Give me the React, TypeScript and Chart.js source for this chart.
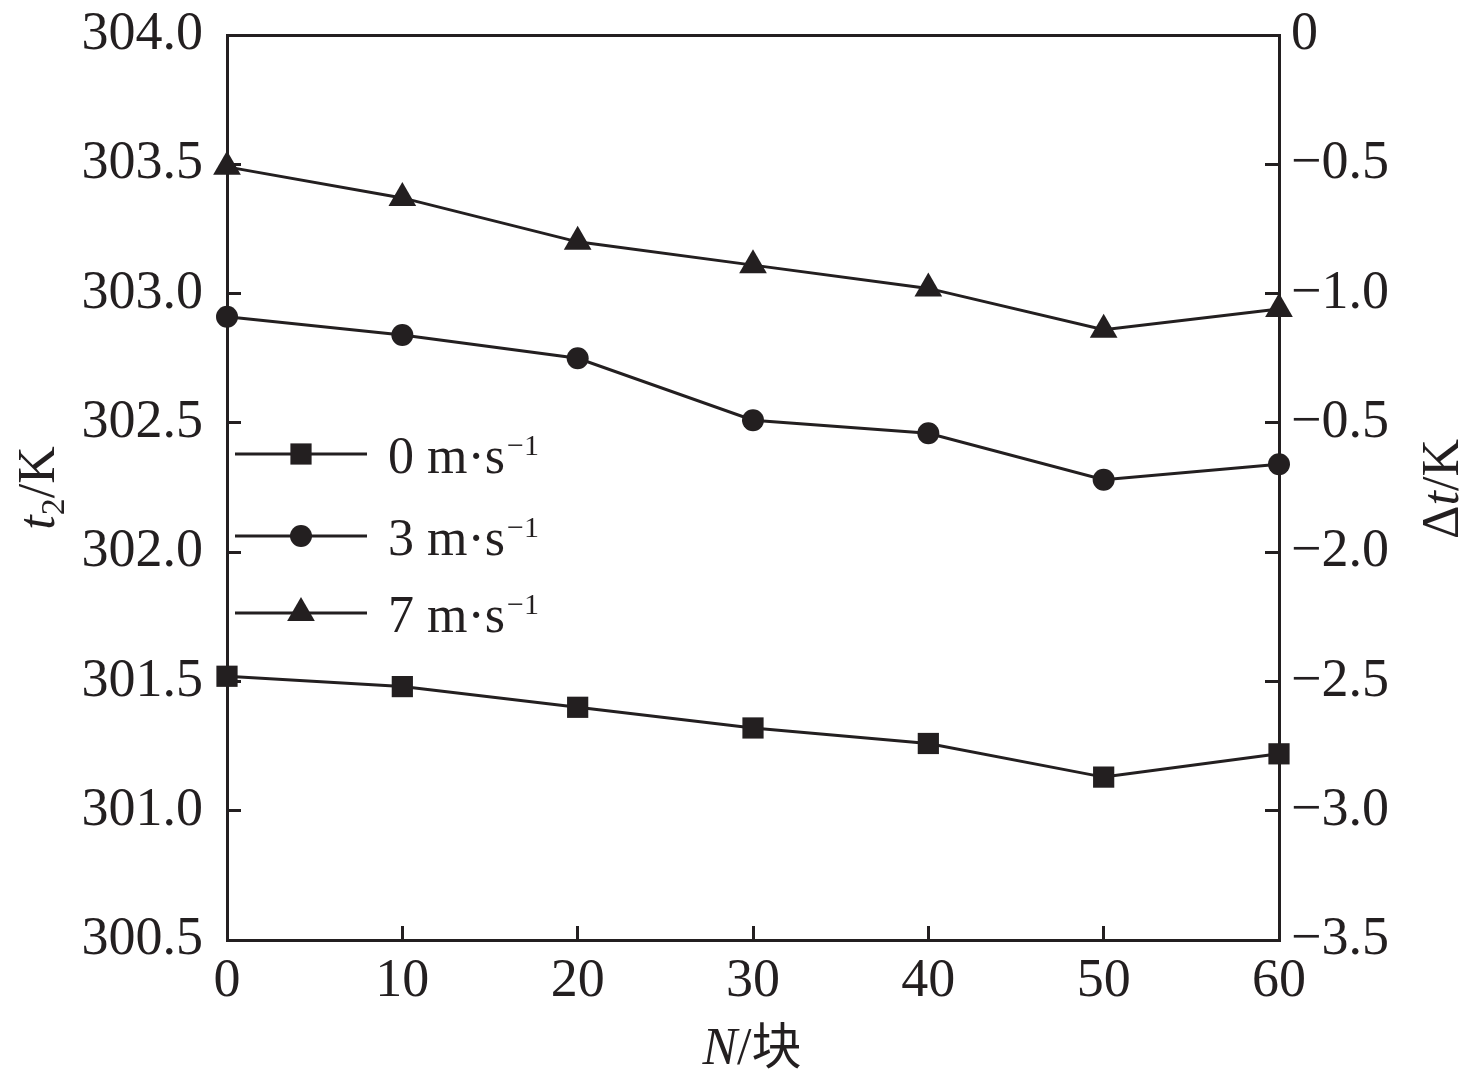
import { useEffect, useRef } from 'react';
import { Chart, registerables, type ChartConfiguration, type Plugin } from 'chart.js';

Chart.register(...registerables);

const blocks = [0, 10, 20, 30, 40, 50, 60];
const speed0 = [301.52, 301.48, 301.4, 301.32, 301.26, 301.13, 301.22];
const speed3 = [302.91, 302.84, 302.75, 302.51, 302.46, 302.28, 302.34];
const speed7 = [303.49, 303.37, 303.2, 303.11, 303.02, 302.86, 302.94];
const seriesNames = ['0 m·s', '3 m·s', '7 m·s'];
const seriesMarkers = ['rect', 'circle', 'triangle'] as const;
const deltaTickLabels = ['0', '−0.5', '−1.0', '−0.5', '−2.0', '−2.5', '−3.0', '−3.5'];

const INK = '#231F20';
const SERIF = '"Liberation Serif", "Times New Roman", serif';
const CJK = '"Noto Sans CJK SC", sans-serif';

type Seg = { text: string; italic?: boolean; size?: number; shift?: number; family?: string };

function segFont(s: Seg, base: number) {
  return `${s.italic ? 'italic ' : ''}${s.size ?? base}px ${s.family ?? SERIF}`;
}

function drawRich(ctx: CanvasRenderingContext2D, segs: Seg[], cx: number, cy: number, base: number, rotate: boolean) {
  ctx.save();
  ctx.translate(cx, cy);
  if (rotate) ctx.rotate(-Math.PI / 2);
  let total = 0;
  for (const s of segs) {
    ctx.font = segFont(s, base);
    total += ctx.measureText(s.text).width;
  }
  let x = -total / 2;
  ctx.textAlign = 'left';
  ctx.textBaseline = 'alphabetic';
  ctx.fillStyle = INK;
  for (const s of segs) {
    ctx.font = segFont(s, base);
    ctx.fillText(s.text, x, base * 0.34 + (s.shift ?? 0));
    x += ctx.measureText(s.text).width;
  }
  ctx.restore();
}

function drawMarker(ctx: CanvasRenderingContext2D, kind: string, x: number, y: number, r: number) {
  ctx.beginPath();
  if (kind === 'rect') {
    const h = r * Math.SQRT1_2;
    ctx.rect(x - h, y - h, 2 * h, 2 * h);
  } else if (kind === 'circle') {
    ctx.arc(x, y, r, 0, Math.PI * 2);
  } else {
    for (let i = 0; i < 3; i++) {
      const a = (i * 2 * Math.PI) / 3;
      const px = x + Math.sin(a) * r;
      const py = y - Math.cos(a) * r;
      if (i === 0) ctx.moveTo(px, py);
      else ctx.lineTo(px, py);
    }
    ctx.closePath();
  }
  ctx.fill();
}

const markerRadius: Record<string, number> = { rect: 15, circle: 11, triangle: 16 };

const decorations: Plugin<'line'> = {
  id: 'decorations',
  afterDraw(chart) {
    const ctx = chart.ctx;
    ctx.save();
    // legend: line - marker - line, then label with superscript
    const rows = [454, 536, 613];
    seriesNames.forEach((name, i) => {
      const y = rows[i];
      ctx.strokeStyle = INK;
      ctx.fillStyle = INK;
      ctx.lineWidth = 3;
      ctx.beginPath();
      ctx.moveTo(235, y);
      ctx.lineTo(367, y);
      ctx.stroke();
      drawMarker(ctx, seriesMarkers[i], 301, y, markerRadius[seriesMarkers[i]]);
      ctx.textAlign = 'left';
      ctx.textBaseline = 'alphabetic';
      ctx.font = `52px ${SERIF}`;
      ctx.fillText(name, 388, y + 19);
      const w = ctx.measureText(name).width;
      ctx.font = `30px ${SERIF}`;
      ctx.fillText('−1', 388 + w + 2, y + 1);
    });
    ctx.restore();

    drawRich(ctx, [{ text: 't', italic: true }, { text: '2', size: 34, shift: 10 }, { text: '/K' }], 36, 488, 52, true);
    drawRich(ctx, [{ text: 'Δ' }, { text: 't', italic: true }, { text: '/K' }], 1440, 489, 52, true);
    drawRich(ctx, [{ text: 'N', italic: true }, { text: '/' }, { text: '块', family: CJK, size: 50 }], 752, 1046, 52, false);
  },
};

const tickFont = { family: SERIF, size: 54 };

// keep the plot frame where the reference has it
function fixVertical(width: number) {
  return (s: any) => {
    s.width = width;
    s.paddingTop = 35;
    s.paddingBottom = 0;
  };
}

export default function App() {
  const canvasRef = useRef<HTMLCanvasElement | null>(null);

  useEffect(() => {
    if (!canvasRef.current) return;
    const series = [speed0, speed3, speed7];
    const config: ChartConfiguration<'line'> = {
      type: 'line',
      data: {
        datasets: series.map((vals, i) => ({
          label: seriesNames[i],
          data: blocks.map((n, j) => ({ x: n, y: vals[j] })),
          borderColor: INK,
          backgroundColor: INK,
          borderWidth: 3,
          pointStyle: seriesMarkers[i],
          pointRadius: markerRadius[seriesMarkers[i]],
          pointBorderWidth: 0,
          pointBackgroundColor: INK,
          tension: 0,
          clip: false,
          yAxisID: 'y',
          xAxisID: 'x',
        })),
      },
      options: {
        animation: false,
        responsive: true,
        maintainAspectRatio: false,
        layout: { padding: { top: 35, left: 0, right: 0, bottom: 0 } },
        plugins: { legend: { display: false }, tooltip: { enabled: false } },
        scales: {
          x: {
            type: 'linear',
            position: 'bottom',
            min: 0,
            max: 60,
            afterFit: (s: any) => {
              s.height = 147;
              s.paddingLeft = 0;
              s.paddingRight = 0;
            },
            border: { color: INK, width: 3 },
            grid: { drawOnChartArea: false, tickLength: -14, tickWidth: 3, color: INK },
            ticks: { stepSize: 10, font: tickFont, color: INK, padding: 23, maxRotation: 0 },
          },
          xTop: {
            type: 'linear',
            position: 'top',
            min: 0,
            max: 60,
            afterFit: (s) => { s.height = 0; },
            border: { color: INK, width: 3 },
            grid: { display: false },
            ticks: { display: false },
          },
          y: {
            type: 'linear',
            position: 'left',
            min: 300.5,
            max: 304,
            afterFit: fixVertical(227),
            border: { color: INK, width: 3 },
            grid: { drawOnChartArea: false, tickLength: -14, tickWidth: 3, color: INK },
            ticks: {
              stepSize: 0.5,
              font: tickFont,
              color: INK,
              padding: 38,
              callback: (v) => Number(v).toFixed(1),
            },
          },
          y2: {
            type: 'linear',
            position: 'right',
            min: -3.5,
            max: 0,
            afterFit: fixVertical(197),
            border: { color: INK, width: 3 },
            grid: { drawOnChartArea: false, tickLength: -14, tickWidth: 3, color: INK },
            ticks: {
              stepSize: 0.5,
              font: tickFont,
              color: INK,
              padding: 26,
              callback: (v) => deltaTickLabels[Math.round(-Number(v) / 0.5)] ?? '',
            },
          },
        },
      },
      plugins: [decorations],
    };
    const chart = new Chart(canvasRef.current, config);
    return () => chart.destroy();
  }, []);

  return (
    <div style={{ position: 'fixed', left: 0, top: 0, width: 1476, height: 1087, background: '#fff' }}>
      <canvas ref={canvasRef} />
    </div>
  );
}
